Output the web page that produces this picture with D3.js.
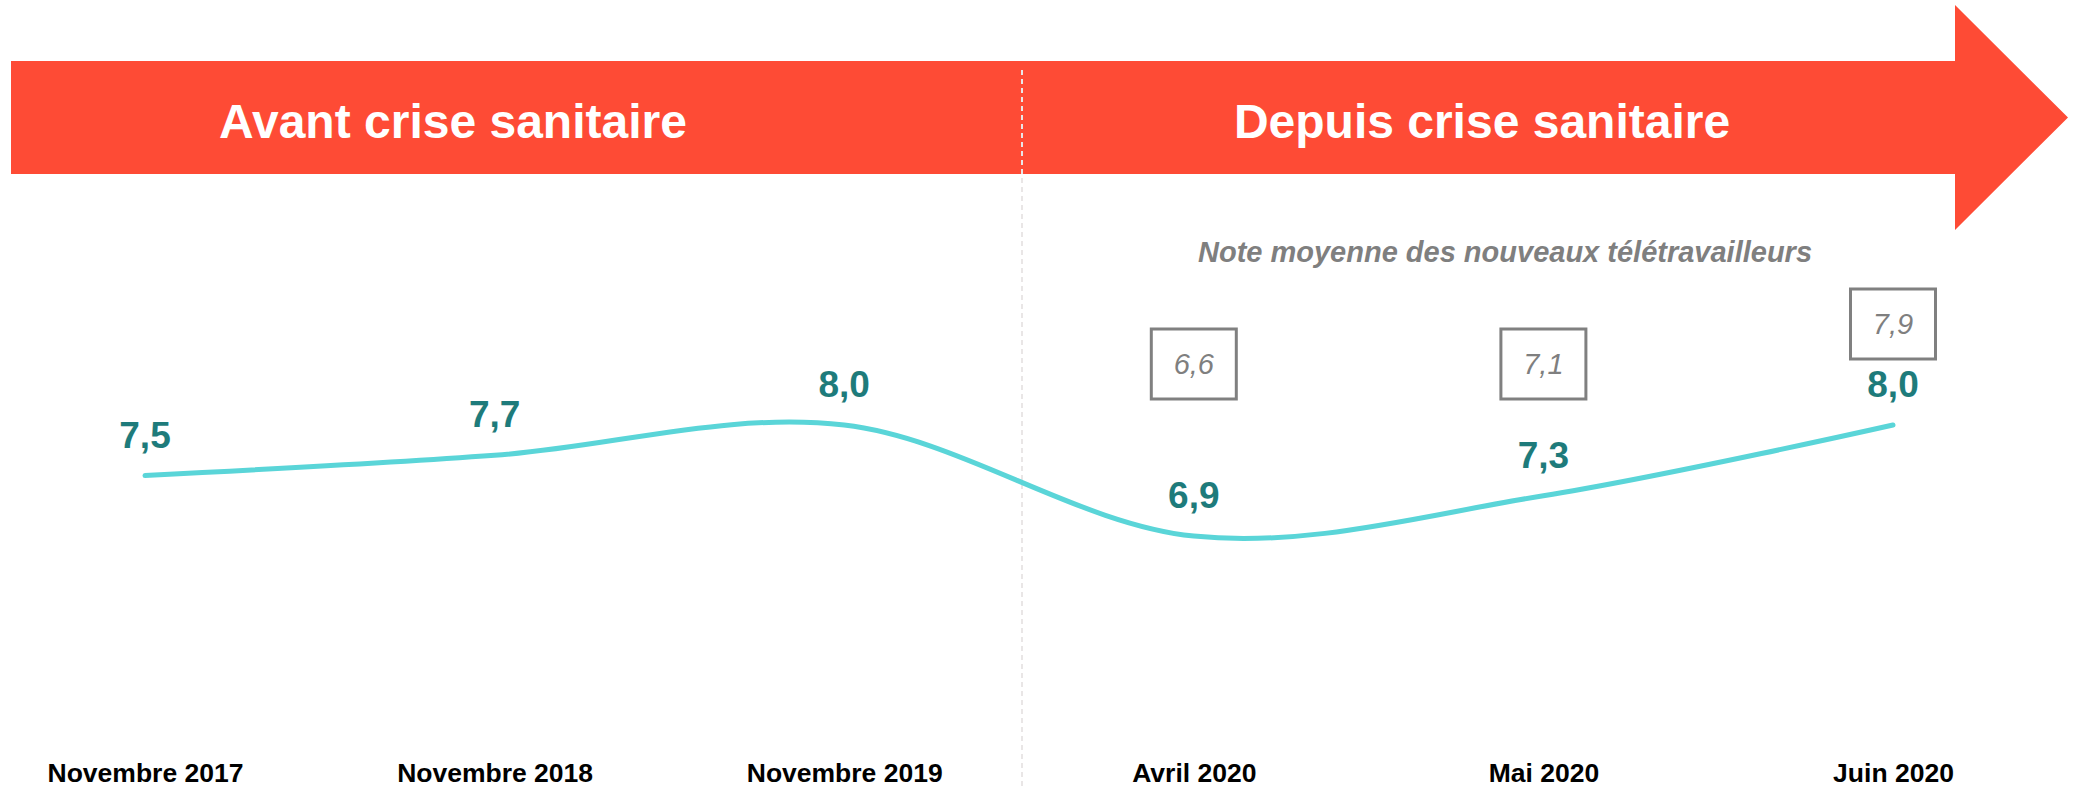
<!DOCTYPE html>
<html>
<head>
<meta charset="utf-8">
<script src="https://cdn.jsdelivr.net/npm/d3@7"></script>
<style>
  body { margin: 0; background: #fff; }
  svg { display: block; font-family: "Liberation Sans", Arial, sans-serif; }
</style>
</head>
<body>
<svg id="chart"></svg>
<script>
// data
var categories = ["Novembre 2017", "Novembre 2018", "Novembre 2019", "Avril 2020", "Mai 2020", "Juin 2020"];
var scores = [7.5, 7.7, 8.0, 6.9, 7.3, 8.0];
var newTeleworkers = [null, null, null, 6.6, 7.1, 7.9];
var periods = ["Avant crise sanitaire", "Depuis crise sanitaire"];
var subtitle = "Note moyenne des nouveaux télétravailleurs";

var width = 2077, height = 790;
var red = "#fe4b35", teal = "#1e7b7b", cyan = "#5ad5d8", grey = "#808080";

var fr = d3.formatLocale({decimal: ",", thousands: " ", grouping: [3], currency: ["", " €"]});
var fmt = fr.format(".1f");

var svg = d3.select("#chart")
    .attr("width", width)
    .attr("height", height);

var x = d3.scalePoint()
    .domain(categories)
    .range([145, 1893]);

var y = d3.scaleLinear()
    .domain([6, 9])
    .range([627, 324]);

// banner arrow
var bTop = 61, bBottom = 174, bLeft = 11, bRight = 1955, tipX = 2068;
svg.append("path")
    .attr("d", "M" + bLeft + "," + bTop + "H" + bRight + "V5L" + tipX + "," + ((bTop + bBottom) / 2) +
      "L" + bRight + ",230V" + bBottom + "H" + bLeft + "Z")
    .attr("fill", red);

// divider between the two periods
var divX = 1022;
svg.append("line")
    .attr("x1", divX).attr("x2", divX)
    .attr("y1", 70).attr("y2", height)
    .attr("stroke", "#e9e6e6")
    .attr("stroke-width", 2)
    .attr("stroke-dasharray", "5,4");

var periodX = [453, 1482];
svg.selectAll("text.period")
    .data(periods)
    .enter()
    .append("text")
    .attr("class", "period")
    .attr("x", function(d, i) { return periodX[i]; })
    .attr("y", 138)
    .attr("text-anchor", "middle")
    .attr("fill", "#fff")
    .attr("font-weight", "bold")
    .attr("font-size", 48)
    .text(function(d) { return d; });

// subtitle
svg.append("text")
    .attr("x", 1505)
    .attr("y", 262)
    .attr("text-anchor", "middle")
    .attr("fill", "#7f7f7f")
    .attr("font-weight", "bold")
    .attr("font-style", "italic")
    .attr("font-size", 29)
    .text(subtitle);

// smoothed line
var line = d3.line()
    .x(function(d, i) { return x(categories[i]); })
    .y(function(d) { return y(d); })
    .curve(d3.curveCatmullRom.alpha(0));

svg.append("path")
    .datum(scores)
    .attr("d", line)
    .attr("fill", "none")
    .attr("stroke", cyan)
    .attr("stroke-width", 5)
    .attr("stroke-linecap", "round");

// value labels
svg.selectAll("text.val")
    .data(scores)
    .enter()
    .append("text")
    .attr("class", "val")
    .attr("x", function(d, i) { return x(categories[i]); })
    .attr("y", function(d) { return y(d) - 28; })
    .attr("text-anchor", "middle")
    .attr("fill", teal)
    .attr("font-weight", "bold")
    .attr("font-size", 37)
    .text(function(d) { return fmt(d); });

// boxed scores of the new teleworkers
var boxW = 85, boxH = 70;
var boxes = svg.selectAll("g.box")
    .data(newTeleworkers.map(function(v, i) { return {v: v, i: i}; })
      .filter(function(d) { return d.v != null; }))
    .enter()
    .append("g")
    .attr("class", "box")
    .attr("transform", function(d) {
      var top = Math.min(329, y(scores[d.i]) - 28 - 108);
      return "translate(" + x(categories[d.i]) + "," + top + ")";
    });

boxes.append("rect")
    .attr("x", -boxW / 2)
    .attr("y", 0)
    .attr("width", boxW)
    .attr("height", boxH)
    .attr("fill", "#fff")
    .attr("stroke", grey)
    .attr("stroke-width", 3);

boxes.append("text")
    .attr("x", 0)
    .attr("y", boxH / 2 + 10)
    .attr("text-anchor", "middle")
    .attr("fill", "#7f7f7f")
    .attr("font-style", "italic")
    .attr("font-size", 29)
    .text(function(d) { return fmt(d.v); });

// x axis labels
var xAxis = d3.axisBottom(x).tickSize(0).tickPadding(0);
var gx = svg.append("g")
    .attr("transform", "translate(0,763)")
    .call(xAxis);
gx.select(".domain").remove();
gx.selectAll("text")
    .attr("fill", "#000")
    .attr("font-family", "Liberation Sans, Arial, sans-serif")
    .attr("font-weight", "bold")
    .attr("font-size", 26.5);
</script>
</body>
</html>
